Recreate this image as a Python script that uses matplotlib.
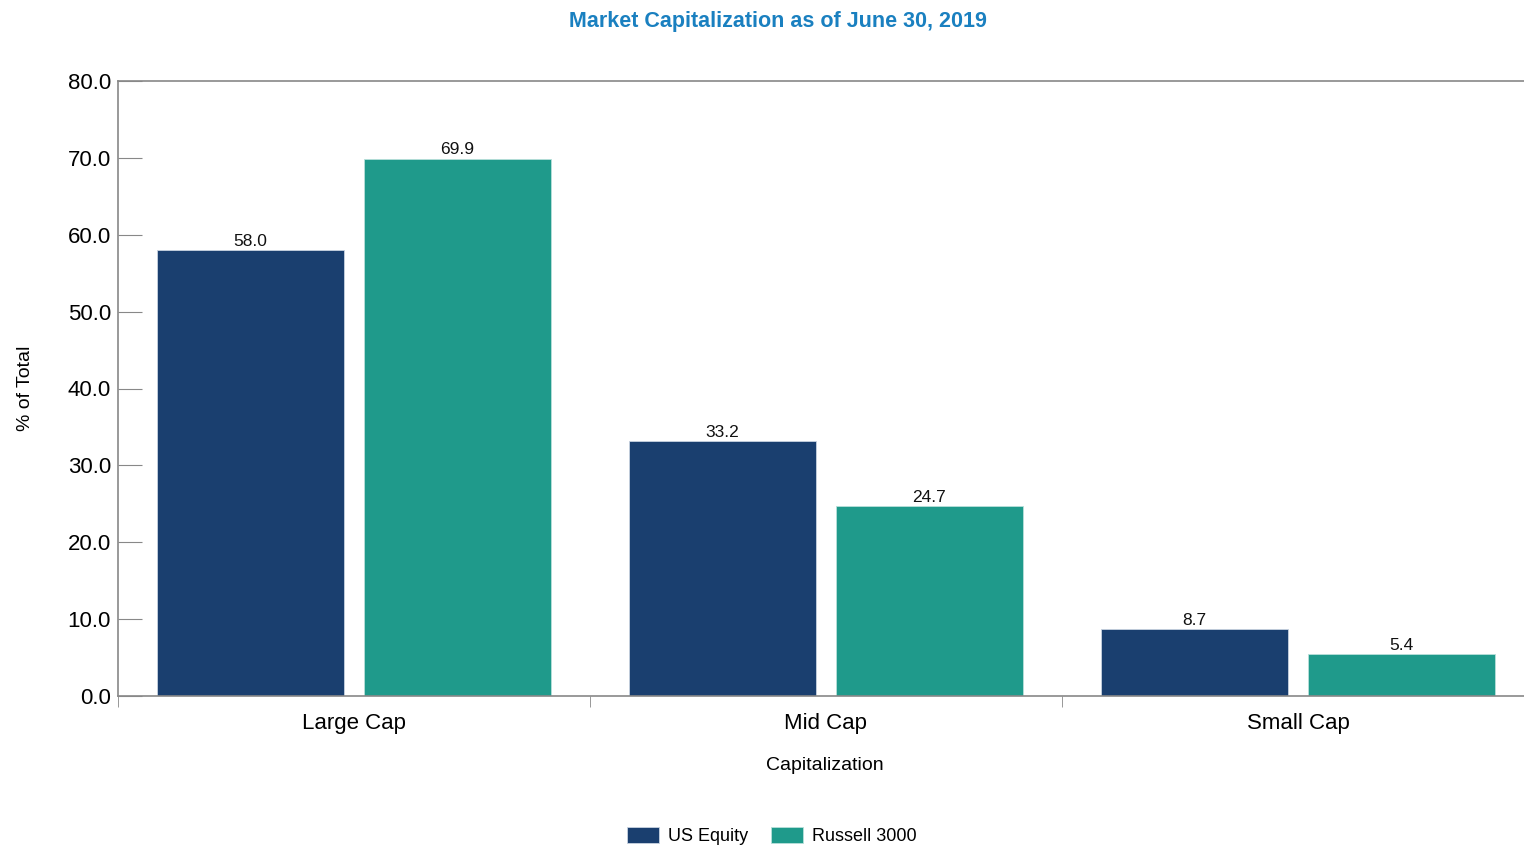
import matplotlib
matplotlib.use("Agg")
import matplotlib.pyplot as plt
import numpy as np

# chart data
categories = ["Large Cap", "Mid Cap", "Small Cap"]
us_equity = [58.0, 33.2, 8.7]
russell_3000 = [69.9, 24.7, 5.4]
series_names = ["US Equity", "Russell 3000"]
y_ticks = [0, 10, 20, 30, 40, 50, 60, 70, 80]

navy = "#1a3f6f"
teal = "#1f9a8b"

plt.rcParams["font.family"] = ["Liberation Sans", "DejaVu Sans"]

fig = plt.figure(figsize=(15.24, 8.5), dpi=100)
# axes run a little past the right edge, as in the reference
ax = fig.add_axes([118 / 1524, 1 - 696 / 850, 1416 / 1524, (696 - 81) / 850])

x = np.arange(len(categories))
width = 0.396
offset = 0.219
b1 = ax.bar(x - offset, us_equity, width, color=navy, edgecolor="#c8d3e0", linewidth=0.6,
            label=series_names[0])
b2 = ax.bar(x + offset, russell_3000, width, color=teal, edgecolor="#b8e0da", linewidth=0.6,
            label=series_names[1])
for bars in (b1, b2):
    for r in bars:
        ax.text(r.get_x() + r.get_width() / 2, r.get_height() + 0.15, f"{r.get_height():.1f}",
                ha="center", va="bottom", fontsize=12.5, color="#111111")

ax.set_xlim(-0.5, 2.5)
ax.set_ylim(0, 80)
ax.set_yticks(y_ticks)
ax.set_yticklabels([f"{v:.1f}" for v in y_ticks], fontsize=16)
ax.tick_params(axis="y", direction="in", length=17, color="#888888", pad=5)

ax.set_xticks(x)
ax.set_xticklabels(categories, fontsize=16)
ax.tick_params(axis="x", length=0, pad=12)
ax.set_xticks([-0.5, 0.5, 1.5], minor=True)
ax.tick_params(axis="x", which="minor", direction="out", length=8, color="#888888")

for s in ["left", "bottom", "top"]:
    ax.spines[s].set_color("#888888")
    ax.spines[s].set_linewidth(1.2)
ax.spines["right"].set_visible(False)

ax.set_ylabel("% of Total", fontsize=14)
ax.yaxis.set_label_coords(-84 / 1416, 0.5)
ax.set_xlabel("Capitalization", fontsize=14)
ax.xaxis.set_label_coords(707 / 1416, -(757 - 696) / 615)

fig.text(778 / 1524, 1 - 21 / 850, "Market Capitalization as of June 30, 2019", ha="center",
         va="center", fontsize=15.5, fontweight="bold", color="#1a80c0")

fig.legend(handles=[b1, b2], labels=series_names, loc="center", bbox_to_anchor=(772 / 1524, 1 - 836 / 850),
           ncol=2, frameon=False, fontsize=13, handlelength=1.75, handleheight=0.95, columnspacing=1.3,
           handletextpad=0.5)

fig.savefig("out.png", dpi=100)
